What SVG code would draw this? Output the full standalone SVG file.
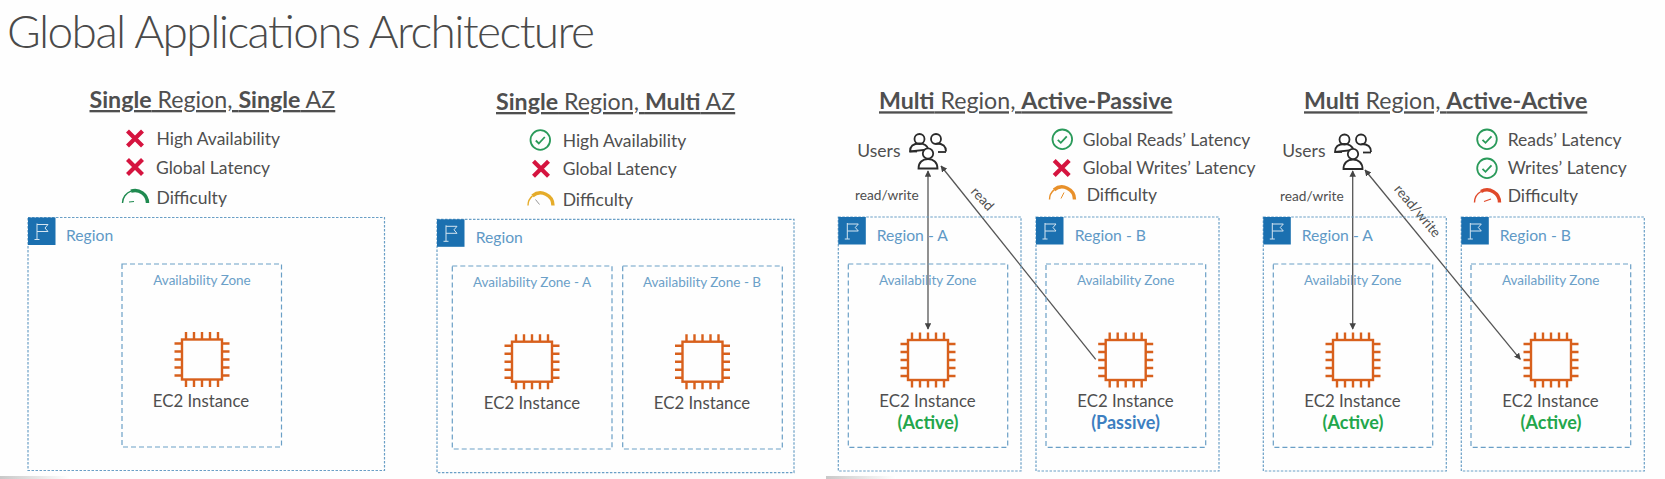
<svg xmlns="http://www.w3.org/2000/svg" width="1665" height="479" viewBox="0 0 1665 479">
<style>
text{font-family:"Lato","Open Sans","Liberation Sans",sans-serif;fill:#4f4f4f}
.title{font-size:46px;font-weight:300;fill:#4a4a4a}
.h{font-size:23.200px;text-decoration:underline;text-decoration-thickness:1.800px;text-decoration-skip-ink:none}
.h tspan.b{font-weight:700}
.t{font-size:17.500px}
.small{font-size:13.700px}
.r{font-size:15.700px;fill:#6099c6}
.az{font-size:13.500px;fill:#6ba0c8;text-anchor:middle}
.ec{font-size:16.800px;text-anchor:middle}
.st{font-size:18px;font-weight:700;text-anchor:middle}
.region{fill:none;stroke:#6a9fc6;stroke-width:1.200;stroke-dasharray:2.500 1.500}
.zone{fill:none;stroke:#6a9fc6;stroke-width:1.200;stroke-dasharray:5 3}
.flagbg{fill:#1b70b0}
.flag{fill:none;stroke:#d5e5f1;stroke-width:1}
.chip{fill:none;stroke:#d8601c;stroke-width:2.400}
.x{fill:none;stroke:#d5143f;stroke-width:4.200}
.chk{fill:none;stroke:#2a9a5a;stroke-width:1.800}
.user{fill:#fff;stroke:#2a2a2a;stroke-width:1.800}
.conn{fill:none;stroke:#555;stroke-width:1.300}
.gt{fill:none;stroke-width:1.400}
.gb{fill:none;stroke-width:3.400}
</style>
<defs>
<marker id="ah" viewBox="0 0 10 10" refX="9" refY="5" markerWidth="6.500" markerHeight="6.500" orient="auto-start-reverse" markerUnits="userSpaceOnUse"><path d="M0 0L10 5L0 10z" fill="#444"/></marker>
<linearGradient id="fade" x1="0" x2="1" y1="0" y2="0"><stop offset="0" stop-color="#c8c8c8"/><stop offset="1" stop-color="#fff"/></linearGradient>
<g id="chip"><rect class="chip" x="-20" y="-20" width="40" height="40"/>
<path class="chip" d="M-16-20v-7.500M-8-20v-7.500M0-20v-7.500M8-20v-7.500M16-20v-7.500M-16 20v7.500M-8 20v7.500M0 20v7.500M8 20v7.500M16 20v7.500M-20-16h-7.500M-20-8h-7.500M-20 0h-7.500M-20 8h-7.500M-20 16h-7.500M20-16h7.500M20-8h7.500M20 0h7.500M20 8h7.500M20 16h7.500"/></g>
<g id="flagsq"><rect class="flagbg" width="27.500" height="27.500"/><path class="flag" d="M9 22V6M6.500 22h5M9 7h11l-3 3.500 3 3.500H9"/></g>
<g id="cross"><path class="x" d="M-7.500-7.500L7.500 7.500M7.500-7.500L-7.500 7.500"/></g>
<g id="check"><circle class="chk" r="9.800"/><path class="chk" d="M-4.500 0.500L-1.500 3.500L4.500-3"/></g>
<g id="users"><circle class="user" cx="-8.500" cy="-11.500" r="5"/><path class="user" d="M-18 1c0-5 3-8 9.500-8s8 3 9 6z" style="fill:none"/><circle class="user" cx="8" cy="-11.500" r="5"/><path class="user" d="M18 1c0-5-3-8-9.500-8" style="fill:none"/><path class="user" d="M10 1.500h8"/><path class="user" d="M-18 1h7"/><path class="user" d="M-9.500 18c0-6 4-9.500 9.500-9.500s9.500 3.500 9.500 9.500z"/><circle class="user" cx="0" cy="3" r="5.200"/></g>
</defs>
<rect width="1665" height="479" fill="#fefefe"/>
<rect x="0" y="476" width="70" height="3" fill="url(#fade)"/>
<rect x="826" y="476" width="70" height="3" fill="url(#fade)"/>
<text class="title" x="7" y="47.500" textLength="588">Global Applications Architecture</text>

<g id="connectors">
<path class="conn" d="M928 171V329" marker-start="url(#ah)" marker-end="url(#ah)"/>
<path class="conn" d="M941 166L1095.700 359.300" marker-start="url(#ah)"/>
<path class="conn" d="M1352.700 171V329" marker-start="url(#ah)" marker-end="url(#ah)"/>
<path class="conn" d="M1365 170L1520.300 359.300" marker-start="url(#ah)" marker-end="url(#ah)"/>
<text class="small" x="855" y="200">read/write</text>
<text class="small" x="1280" y="200.500">read/write</text>
<text class="small" text-anchor="middle" transform="translate(979 202) rotate(47)">read</text>
<text class="small" text-anchor="middle" transform="translate(1414 214) rotate(50)">read/write</text>
</g>

<g id="panel-1">
<text class="h" x="89.500" y="108"><tspan class="b">Single</tspan> Region, <tspan class="b">Single</tspan> AZ</text>
<use href="#cross" x="135" y="138.500"/><text class="t" x="156.500" y="145">High Availability</text>
<use href="#cross" x="135" y="167"/><text class="t" x="156" y="173.500">Global Latency</text>
<g id="gauge-1" transform="translate(135 203)" stroke="#1f8a50"><path class="gt" d="M-12.500 0A12.500 12.500 0 0 1-4 -11.800"/><path class="gb" d="M-4 -11.800A12.500 12.500 0 0 1 12.500 0"/><path d="M-6 -1l5-.5" stroke-width="1.200"/></g>
<text class="t" x="156.500" y="203.500">Difficulty</text>
</g>
<g id="region-1"><rect class="region" x="28" y="217.500" width="356.500" height="253"/><use href="#flagsq" x="28" y="217.500"/><text class="r" x="66" y="241">Region</text></g>
<g id="az-1"><rect class="zone" x="122" y="264" width="159.500" height="183"/><text class="az" x="202" y="285">Availability Zone</text></g>
<g id="ec2-1"><use href="#chip" x="202" y="359.500"/><text class="ec" x="201" y="406.500">EC2 Instance</text></g>

<g id="panel-2">
<text class="h" x="496" y="110"><tspan class="b">Single</tspan> Region, <tspan class="b">Multi</tspan> AZ</text>
<use href="#check" x="540.300" y="140"/><text class="t" x="562.700" y="146.700">High Availability</text>
<use href="#cross" x="541" y="168.700"/><text class="t" x="562.700" y="175">Global Latency</text>
<g id="gauge-2" transform="translate(540.500 205.500)" stroke="#e5ac2a"><path class="gt" d="M-12.500 0A12.500 12.500 0 0 1-8 -9.600"/><path class="gb" d="M-8 -9.600A12.500 12.500 0 0 1 12.500 0"/><path d="M-5 -6l4 5" stroke="#999" stroke-width="1"/></g>
<text class="t" x="562.700" y="206">Difficulty</text>
</g>
<g id="region-2"><rect class="region" x="437" y="219.300" width="357" height="253.400"/><use href="#flagsq" x="437" y="219.300"/><text class="r" x="475.700" y="242.700">Region</text></g>
<g id="az-2a"><rect class="zone" x="452.300" y="266" width="159.700" height="183"/><text class="az" x="532" y="287.300">Availability Zone - A</text></g>
<g id="az-2b"><rect class="zone" x="622.700" y="266" width="159.600" height="183"/><text class="az" x="702" y="287.300">Availability Zone - B</text></g>
<g id="ec2-2a"><use href="#chip" x="532" y="361.700"/><text class="ec" x="532" y="409">EC2 Instance</text></g>
<g id="ec2-2b"><use href="#chip" x="702.500" y="361.700"/><text class="ec" x="702" y="409">EC2 Instance</text></g>

<g id="panel-3">
<text class="h" x="879" y="109.300"><tspan class="b">Multi</tspan> Region, <tspan class="b">Active-Passive</tspan></text>
<text class="t" x="857.300" y="156.700">Users</text>
<use id="users-3" href="#users" x="928" y="150.500"/>
<use href="#check" x="1062.300" y="139.300"/><text class="t" x="1082.700" y="146">Global Reads’ Latency</text>
<use href="#cross" x="1061.700" y="168"/><text class="t" x="1082.700" y="174">Global Writes’ Latency</text>
<g id="gauge-3" transform="translate(1062 199.500)" stroke="#e8902a"><path class="gt" d="M-12.500 0A12.500 12.500 0 0 1-8 -9.600"/><path class="gb" d="M-8 -9.600A12.500 12.500 0 0 1 12.500 0"/><path d="M-1 -1l3-6" stroke-width="1"/></g>
<text class="t" x="1086.700" y="201">Difficulty</text>
</g>
<g id="region-3a"><rect class="region" x="838.300" y="217" width="182.700" height="254"/><use href="#flagsq" x="838.300" y="217"/><text class="r" x="876.700" y="240.700">Region - A</text></g>
<g id="region-3b"><rect class="region" x="1036" y="217" width="183" height="254"/><use href="#flagsq" x="1036" y="217"/><text class="r" x="1074.700" y="240.700">Region - B</text></g>
<g id="az-3a"><rect class="zone" x="848.300" y="264" width="159.400" height="183.300"/><text class="az" x="927.700" y="285">Availability Zone</text></g>
<g id="az-3b"><rect class="zone" x="1046" y="264" width="159.700" height="183.300"/><text class="az" x="1125.700" y="285">Availability Zone</text></g>
<g id="ec2-3a"><use href="#chip" x="928" y="360"/><text class="ec" x="927.500" y="406.700">EC2 Instance</text><text class="st" x="928" y="429.300" style="fill:#22a64b">(Active)</text></g>
<g id="ec2-3b"><use href="#chip" x="1125.700" y="360"/><text class="ec" x="1125.500" y="406.700">EC2 Instance</text><text class="st" x="1125.500" y="429.300" style="fill:#3d7fc1">(Passive)</text></g>

<g id="panel-4">
<text class="h" x="1304" y="109.300"><tspan class="b">Multi</tspan> Region, <tspan class="b">Active-Active</tspan></text>
<text class="t" x="1282.300" y="157">Users</text>
<use id="users-4" href="#users" x="1353" y="151"/>
<use href="#check" x="1487" y="139.300"/><text class="t" x="1507.700" y="146">Reads’ Latency</text>
<use href="#check" x="1487" y="168.300"/><text class="t" x="1507.700" y="174">Writes’ Latency</text>
<g id="gauge-4" transform="translate(1487 202.500)" stroke="#e0492a"><path class="gt" d="M-12.500 0A12.500 12.500 0 0 1-6 -11"/><path class="gb" d="M-6 -11A12.500 12.500 0 0 1 12.500 0"/><path d="M-3 -1l7-2.500" stroke-width="1.200"/></g>
<text class="t" x="1507.700" y="201.700">Difficulty</text>
</g>
<g id="region-4a"><rect class="region" x="1263.300" y="217" width="183" height="254"/><use href="#flagsq" x="1263.300" y="217"/><text class="r" x="1301.700" y="240.700">Region - A</text></g>
<g id="region-4b"><rect class="region" x="1461.300" y="217" width="183" height="254"/><use href="#flagsq" x="1461.300" y="217"/><text class="r" x="1499.700" y="240.700">Region - B</text></g>
<g id="az-4a"><rect class="zone" x="1273.300" y="264" width="159.400" height="183.300"/><text class="az" x="1352.700" y="285">Availability Zone</text></g>
<g id="az-4b"><rect class="zone" x="1471" y="264" width="159.700" height="183.300"/><text class="az" x="1550.700" y="285">Availability Zone</text></g>
<g id="ec2-4a"><use href="#chip" x="1353" y="360"/><text class="ec" x="1352.500" y="406.700">EC2 Instance</text><text class="st" x="1353" y="429.300" style="fill:#22a64b">(Active)</text></g>
<g id="ec2-4b"><use href="#chip" x="1551" y="360"/><text class="ec" x="1550.500" y="406.700">EC2 Instance</text><text class="st" x="1551" y="429.300" style="fill:#22a64b">(Active)</text></g>
</svg>
